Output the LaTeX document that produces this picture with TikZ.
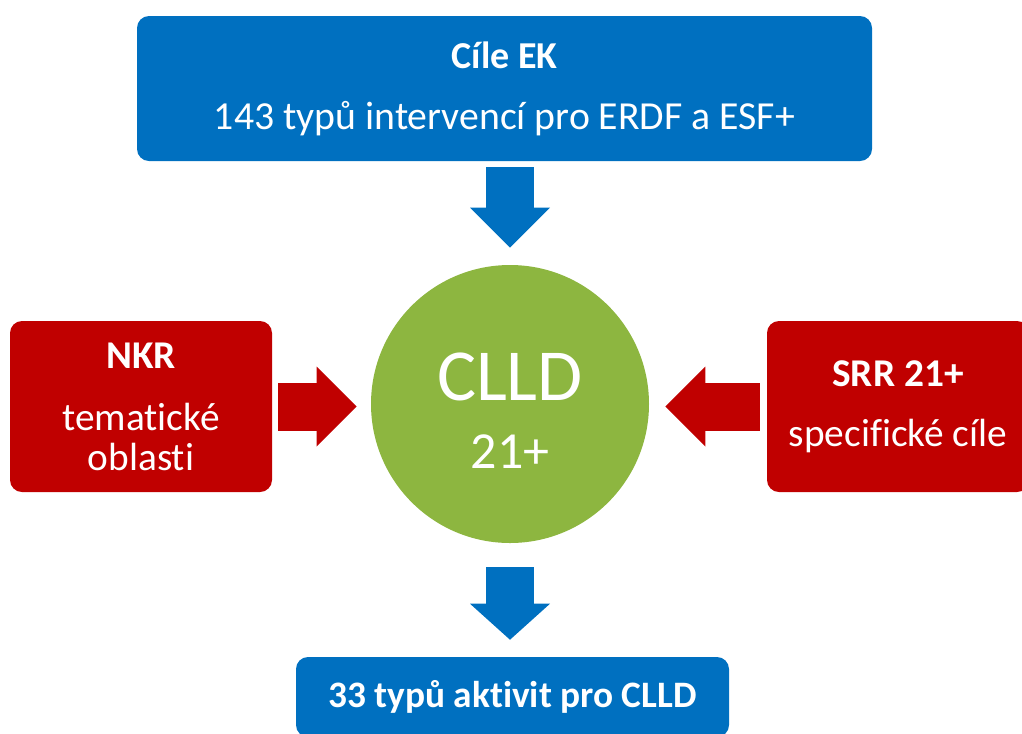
\documentclass[tikz,border=0pt]{standalone}
\usepackage{fontspec}
\setmainfont{Carlito}[Ligatures=CommonOff, RawFeature={-liga;-clig;-calt;-dlig}]
\usetikzlibrary{arrows.meta, positioning}
\definecolor{EKBlue}{RGB}{0, 112, 192}
\definecolor{DarkRed}{RGB}{192, 0, 0}
\definecolor{LeafGreen}{RGB}{141, 182, 64}

\begin{document}
\begin{tikzpicture}[
            x=0.75pt, y=-0.75pt,
            bluebox/.style={rectangle, rounded corners=9pt, fill=EKBlue, text=white,
                            align=center, inner sep=0pt, font=\fontsize{29.8}{45.75}\selectfont},
            redbox/.style={rectangle, rounded corners=9pt, fill=DarkRed, text=white,
                           minimum width=196.5pt, minimum height=128.25pt, align=center,
                           inner sep=0pt, font=\fontsize{29.5}{30}\selectfont},
            hub/.style={circle, fill=LeafGreen, text=white, minimum size=208.5pt,
                        align=center, inner sep=0pt, font=\fontsize{55}{51}\selectfont},
            fatarrow/.style={line width=36pt, -{Triangle[width=60pt, length=30pt, line width=0pt]}}
        ]
            \useasboundingbox (0,0) rectangle (1022,733);

            \node[bluebox, minimum width=551.25pt, minimum height=108.75pt] (goals) at (504.5,88.5)
                {\bfseries\fontsize{28.5}{34}\selectfont Cíle EK\\ 143 typů intervencí pro ERDF a ESF+};
            \node[hub] (clld) at (510,404)
                {\rule{0pt}{45pt}CLLD\\ \fontsize{39}{44}\selectfont 21+};
            \node[redbox] (nkr) at (141,406.5)
                {\bfseries NKR\\[16.5pt] tematické\\ oblasti};
            \node[redbox] (srr) at (898,406.5)
                {\bfseries SRR 21+\\[15pt] specifické cíle};
            \node[bluebox, minimum width=324.75pt, minimum height=60pt] (types) at (512.5,697)
                {\bfseries\fontsize{28}{34}\selectfont 33 typů aktivit pro CLLD};

            \draw[fatarrow, EKBlue, shorten <=4.5pt, shorten >=12.75pt] (clld.north |- goals.south) -- (clld.north);
            \draw[fatarrow, DarkRed, shorten <=4.5pt, shorten >=10.5pt] (nkr.east) -- (nkr.east -| clld.west);
            \draw[fatarrow, DarkRed, shorten <=5.25pt, shorten >=12pt] (srr.west) -- (srr.west -| clld.east);
            \draw[fatarrow, EKBlue, -{Triangle[width=60pt, length=27pt, line width=0pt]}, shorten <=18pt, shorten >=12.75pt]
                (clld.south) -- (clld.south |- types.north);
        \end{tikzpicture}
\end{document}
